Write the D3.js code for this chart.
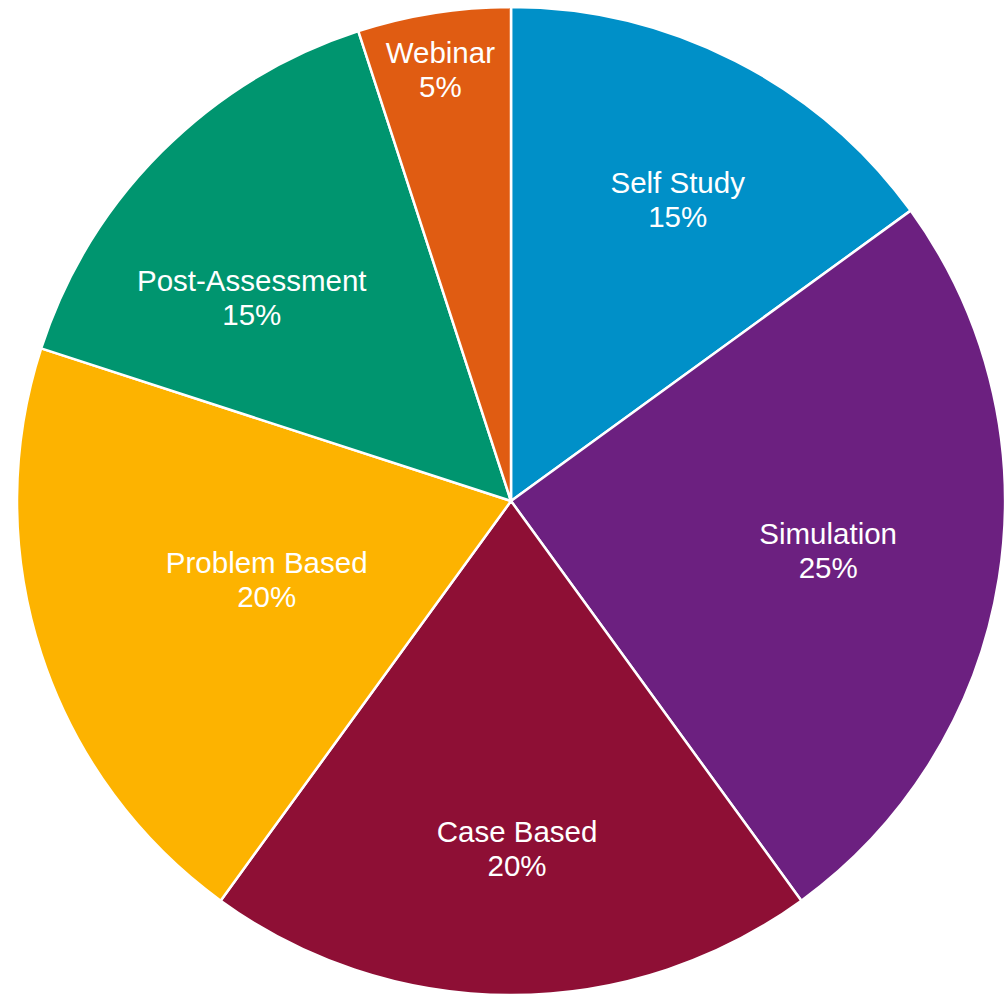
<!DOCTYPE html>
<html>
<head>
<meta charset="utf-8">
<script src="https://cdn.jsdelivr.net/npm/d3@7"></script>
<style>
  body { margin: 0; background: #fff; }
  svg text { font-family: "Liberation Sans", Arial, sans-serif; fill: #fff; }
</style>
</head>
<body>
<div id="piechart"></div>
<script>
// data
var categories = ["Self Study", "Simulation", "Case Based", "Problem Based", "Post-Assessment", "Webinar"];
var values = [15, 25, 20, 20, 15, 5];
var colors = ["#0090C8", "#6C2080", "#8E0F35", "#FDB300", "#00956F", "#E05C12"];

// label placement (fraction of radius, angle shift in degrees) - mimics excel's placement
var labelRadius = [0.696, 0.65, 0.704, 0.52, 0.666, 0.885];
var labelShift = [2, 0, -1, 0, -7, -0.3];

var width = 1004;
var height = 995;
var cx = 511;
var cy = 501;
var radius = 494;

var color = d3.scaleOrdinal().domain(categories).range(colors);

var arc = d3.arc().outerRadius(radius).innerRadius(0);

var pie = d3
  .pie()
  .sort(null)
  .value(function (d) {
    return d.value;
  });

var data = categories.map(function (c, i) {
  return { key: c, value: values[i] };
});

var svg = d3
  .select("#piechart")
  .append("svg")
  .attr("width", width)
  .attr("height", height)
  .append("g")
  .attr("transform", "translate(" + cx + "," + cy + ")");

var g = svg
  .selectAll(".arc")
  .data(pie(data))
  .enter()
  .append("g")
  .attr("class", "arc");

g.append("path")
  .attr("d", arc)
  .style("fill", function (d) {
    return color(d.data.key);
  })
  .style("stroke", "#fff")
  .style("stroke-width", 2.5)
  .style("stroke-linejoin", "round");

var labels = g
  .append("text")
  .attr("text-anchor", "middle")
  .style("font-size", "29.5px")
  .attr("transform", function (d, i) {
    var a = (d.startAngle + d.endAngle) / 2 + (labelShift[i] * Math.PI) / 180;
    var r = radius * labelRadius[i];
    return "translate(" + r * Math.sin(a) + "," + -r * Math.cos(a) + ")";
  });

labels
  .append("tspan")
  .attr("x", 0)
  .attr("y", -7)
  .text(function (d) {
    return d.data.key;
  });

labels
  .append("tspan")
  .attr("x", 0)
  .attr("y", 27)
  .text(function (d) {
    return d.data.value + "%";
  });
</script>
</body>
</html>
